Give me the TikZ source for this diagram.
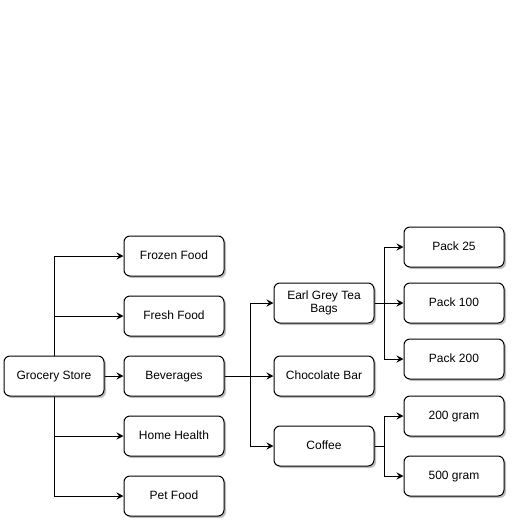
\documentclass[tikz,border=0pt]{standalone}
\usepackage{fontspec}
\setmainfont{Liberation Sans}
\usetikzlibrary{arrows.meta,shadows}

\begin{document}
\begin{tikzpicture}[x=1pt, y=-1pt, font=\fontsize{12}{13.5}\selectfont,
  box/.style={draw, rounded corners=6pt, fill=white, line width=1pt,
    minimum width=100pt, minimum height=40pt, align=center,
    drop shadow={shadow xshift=2pt, shadow yshift=-2pt, fill=black, opacity=0.25}},
  onebox/.style={box, text height=9pt, text depth=2.5pt},
  link/.style={line width=1pt, -{Stealth[length=7pt,width=7pt,inset=2.5pt]}}]
\useasboundingbox (0,0) rectangle (520,520);
% first level
\node[onebox] (store) at (54,376) {Grocery Store};
\node[onebox] (frozen) at (174,256) {Frozen Food};
\node[onebox] (fresh) at (174,316) {Fresh Food};
\node[onebox] (bev) at (174,376) {Beverages};
\node[onebox] (home) at (174,436) {Home Health};
\node[onebox] (pet) at (174,496) {Pet Food};
% beverages
\node[box] (earl) at (324,303) {Earl Grey Tea\\Bags};
\node[onebox] (choc) at (324,376) {Chocolate Bar};
\node[onebox] (coffee) at (324,446) {Coffee};
\node[onebox] (p25) at (454,247) {Pack 25};
\node[onebox] (p100) at (454,303) {Pack 100};
\node[onebox] (p200) at (454,359) {Pack 200};
\node[onebox] (g200) at (454,416) {200 gram};
\node[onebox] (g500) at (454,476) {500 gram};
\coordinate (bevj) at (250,376);
\coordinate (earlj) at (384,303);
\coordinate (coffeej) at (384,446);

\draw[link] (store.north) |- (frozen.west);
\draw[link] (store.north) |- (fresh.west);
\draw[link] (store.east) -- (bev.west);
\draw[link] (store.south) |- (home.west);
\draw[link] (store.south) |- (pet.west);
\draw[link] (bev.east) -- (bevj) |- (earl.west);
\draw[link] (bevj) -- (choc.west);
\draw[link] (bevj) |- (coffee.west);
\draw[link] (earl.east) -- (earlj) |- (p25.west);
\draw[link] (earlj) -- (p100.west);
\draw[link] (earlj) |- (p200.west);
\draw[link] (coffee.east) -- (coffeej) |- (g200.west);
\draw[link] (coffeej) |- (g500.west);
\end{tikzpicture}
\end{document}
